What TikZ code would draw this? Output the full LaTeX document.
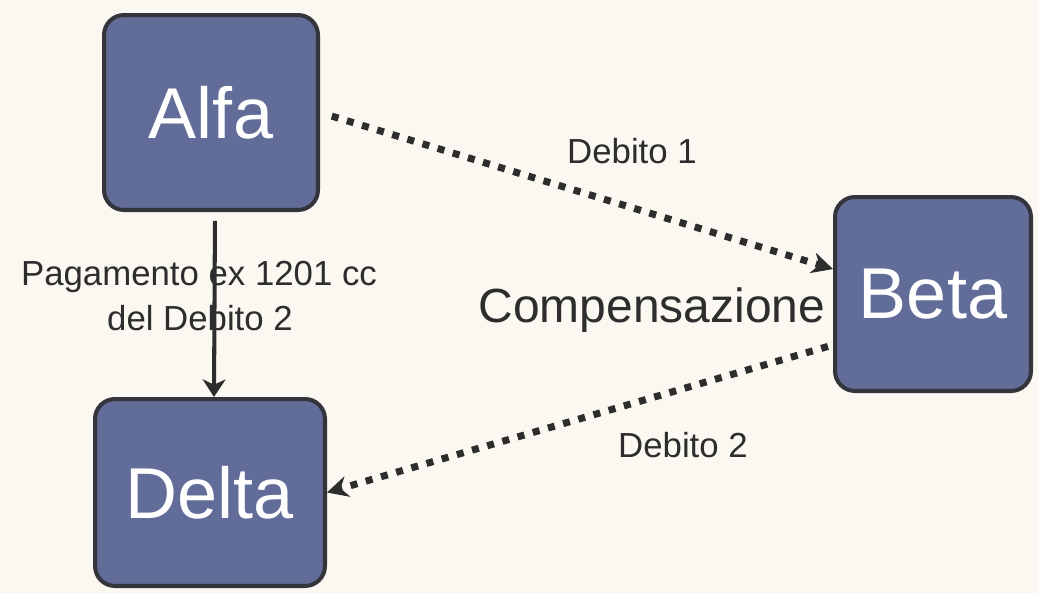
\documentclass[tikz,border=0pt]{standalone}
\usepackage{fontspec}
\setmainfont{Liberation Sans}
\usetikzlibrary{arrows.meta}
\definecolor{paper}{RGB}{250,248,240}
\definecolor{boxfill}{RGB}{98,108,152}
\definecolor{boxline}{RGB}{52,52,60}
\definecolor{ink}{RGB}{45,45,45}
\tikzset{party/.style={draw=boxline, fill=boxfill, line width=2.3pt,
   rounded corners=0.4cm, text=white, inner sep=0pt,
   font=\fontsize{41}{41}\selectfont},
 lbl/.style={text=ink, inner sep=0pt, font=\fontsize{19.8}{24}\selectfont},
 debt/.style={draw=ink, line width=4pt, dash pattern=on 4pt off 5pt,
   -{Stealth[length=12pt,width=12pt]}},
 pay/.style={draw=ink, line width=2.3pt,
   -{Stealth[length=10pt,width=13pt,inset=3pt]}},
 }

\begin{document}
\begin{tikzpicture}[x=0.02cm, y=-0.02cm]
        \fill[paper] (0,0) rectangle (1038,593);

        \node[party, minimum width=4.28cm, minimum height=3.9cm] (alfa) at (211,112.5) {Alfa};
        \node[party, minimum width=3.92cm, minimum height=3.88cm] (beta) at (933,294) {Beta};
        \node[party, minimum width=4.6cm, minimum height=3.74cm] (delta) at (210,492.5) {Delta};

        \node[lbl, anchor=base] (deb1) at (632,163) {Debito 1};
        \node[lbl, anchor=base, font=\fontsize{27.3}{30}\selectfont] (comp) at (652,322) {Compensazione};
        \node[lbl, anchor=base] (deb2) at (683,457) {Debito 2};
        \node[lbl, anchor=base] (pag1) at (199,285) {Pagamento ex 1201 cc};
        \node[lbl, anchor=base] (pag2) at (200,330) {del Debito 2};

        \draw[pay, shorten <=5pt] ([xshift=0.08cm]alfa.south) -- ([xshift=0.08cm]delta.north);
        \draw[debt, shorten <=7pt] (alfa.east) -- (beta.166);
        \draw[debt, shorten <=3pt] (beta.207) -- (delta.east);
    \end{tikzpicture}
\end{document}
